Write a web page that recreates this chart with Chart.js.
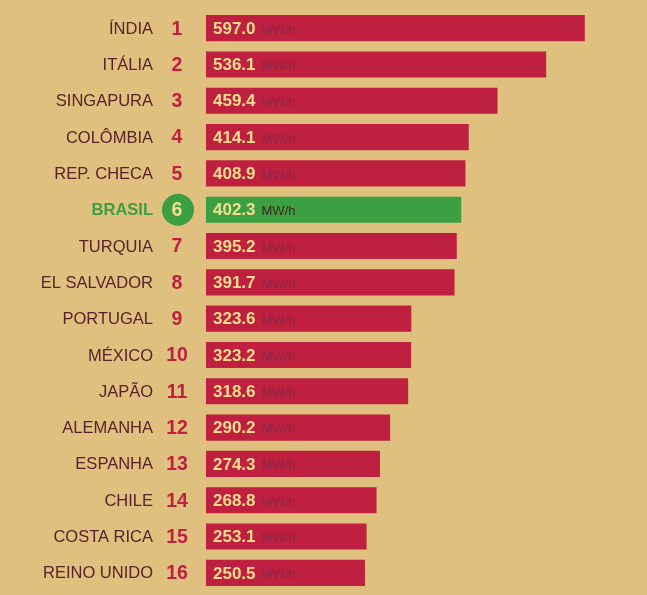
<!DOCTYPE html>
<html>
<head>
<meta charset="utf-8">
<script src="https://cdn.jsdelivr.net/npm/chart.js@4"></script>
<style>
  html, body { margin: 0; padding: 0; background: #dfc07f; }
  #wrap { width: 647px; height: 595px; position: relative; }
</style>
</head>
<body>
<div id="wrap"><canvas id="chart" width="647" height="595"></canvas></div>
<script>
const countries = ['ÍNDIA', 'ITÁLIA', 'SINGAPURA', 'COLÔMBIA', 'REP. CHECA', 'BRASIL', 'TURQUIA', 'EL SALVADOR',
    'PORTUGAL', 'MÉXICO', 'JAPÃO', 'ALEMANHA', 'ESPANHA', 'CHILE', 'COSTA RICA', 'REINO UNIDO'];
const ranks = [1, 2, 3, 4, 5, 6, 7, 8, 9, 10, 11, 12, 13, 14, 15, 16];
const values = [597.0, 536.1, 459.4, 414.1, 408.9, 402.3, 395.2, 391.7,
    323.6, 323.2, 318.6, 290.2, 274.3, 268.8, 253.1, 250.5];
const unit = 'MW/h';
const highlight = 'BRASIL';

const RED = '#bf203f';
const GREEN = '#3c9f41';
const FONT = '"Liberation Sans", Arial, sans-serif';

const barColors = countries.map(c => c === highlight ? GREEN : RED);

// Labels: country name, rank and value drawn beside / inside each bar
const labelPlugin = {
    id: 'rowLabels',
    afterDatasetsDraw(chart) {
        const { ctx, scales: { x, y } } = chart;
        ctx.save();
        ctx.textBaseline = 'middle';
        countries.forEach((name, i) => {
            const cy = y.getPixelForValue(i);
            const isHi = name === highlight;

            ctx.textAlign = 'right';
            ctx.font = (isHi ? 'bold ' : '') + '16.5px ' + FONT;
            ctx.fillStyle = isHi ? GREEN : '#58222a';
            ctx.fillText(name, 153, cy + 1);

            ctx.textAlign = 'center';
            if (isHi) {
                ctx.beginPath();
                ctx.arc(178, cy, 16, 0, Math.PI * 2);
                ctx.fillStyle = GREEN;
                ctx.fill();
                ctx.fillStyle = '#f3e08e';
            } else {
                ctx.fillStyle = RED;
            }
            ctx.font = 'bold 19.5px ' + FONT;
            ctx.fillText(String(ranks[i]), 177, cy + 1);

            ctx.textAlign = 'left';
            ctx.font = 'bold 17px ' + FONT;
            ctx.fillStyle = '#f6df8c';
            const label = values[i].toFixed(1);
            const x0 = x.getPixelForValue(0) + 7;
            ctx.fillText(label, x0, cy + 1);
            const w = ctx.measureText(label).width;
            ctx.font = '13px ' + FONT;
            ctx.fillStyle = isHi ? '#3a2a1c' : '#8a2846';
            ctx.fillText(unit, x0 + w + 6, cy + 2);
        });
        ctx.restore();
    }
};

new Chart(document.getElementById('chart'), {
    type: 'bar',
    data: {
        labels: countries,
        datasets: [{
            data: values,
            backgroundColor: barColors,
            borderWidth: 0,
            barPercentage: 0.72,
            categoryPercentage: 1
        }]
    },
    options: {
        indexAxis: 'y',
        responsive: false,
        animation: false,
        layout: { padding: { left: 206, right: 0, top: 10, bottom: 4 } },
        scales: {
            x: { display: false, min: 0, max: 695 },
            y: { display: false }
        },
        plugins: { legend: { display: false }, tooltip: { enabled: false } }
    },
    plugins: [labelPlugin]
});
</script>
</body>
</html>
